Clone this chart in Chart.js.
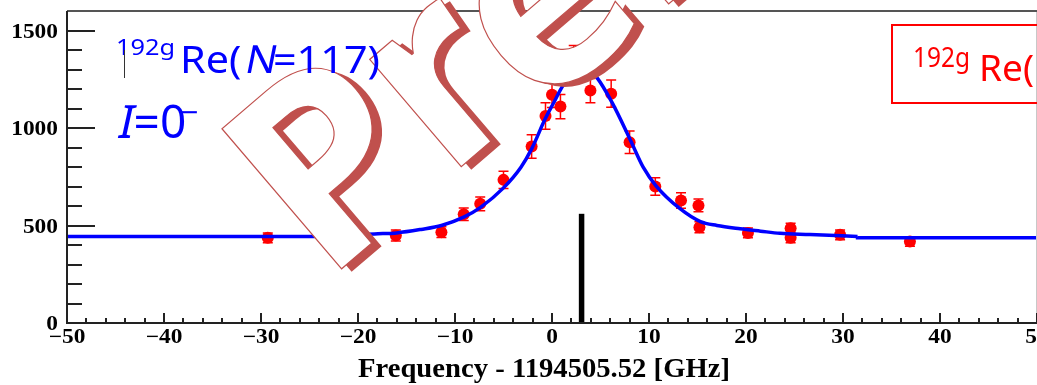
<!DOCTYPE html>
<html>
<head>
<meta charset="utf-8">
<script src="https://cdn.jsdelivr.net/npm/chart.js@4.4.0/dist/chart.umd.min.js"></script>
<style>
  html, body { margin: 0; padding: 0; background: #fff; }
  #wrap { width: 1037px; height: 385px; }
</style>
</head>
<body>
<div id="wrap"><canvas id="resonance" width="1037" height="385"></canvas></div>
<script>
// ---- measured points: frequency offset (GHz), counts, error ----
const freq     = [-29.3, -16.1, -11.4, -9.1, -7.4, -5.0, -2.1, -0.67, 0.0, 0.87, 2.24, 3.96, 6.1, 8.0, 10.65, 13.3, 15.1, 15.2, 20.2, 24.6, 24.6, 29.7, 36.9];
const counts   = [437, 449, 466, 558, 611, 734, 905, 1062, 1170, 1110, 1358, 1192, 1176, 927, 700, 628, 603, 491, 462, 486, 437, 452, 418];
const countErr = [25, 28, 28, 32, 35, 44, 60, 68, 65, 62, 65, 62, 70, 58, 45, 40, 33, 28, 25, 26, 25, 25, 24];

// ---- fitted curve ----
const fitFreq   = [-24.5, -20, -18.3, -16, -13.5, -11.4, -9.1, -7.4, -5.0, -3.2, -2.1, -0.7, 0.2, 1.0, 2.0, 3.0, 4.0, 4.6, 6.2, 8.1, 9.4, 10.7, 13.2, 15.3, 17.0, 19.4, 21.5, 23.5, 26.6, 31.5];
const fitCounts = [443, 452, 457, 462, 480, 500, 543, 592, 693, 799, 893, 1047, 1132, 1207, 1280, 1315, 1290, 1261, 1130, 936, 799, 705, 586, 520, 500, 483, 471, 460, 454, 444];
// flat tails of the fit (ROOT draws them as steps)
const tailLeftFreq    = [-50, -35.5, -24.5];
const tailLeftCounts  = [435, 443, 443];
const tailRightFreq   = [31.5, 42.5, 50];
const tailRightCounts = [444, 437, 437];

// ---- black marker line ----
const refFreq   = [3.05, 3.05];
const refCounts = [0, 560];

// ---- axes ----
const xMajorTicks = [-50, -40, -30, -20, -10, 0, 10, 20, 30, 40, 50];
const xTickLabels = ['\u221250', '\u221240', '\u221230', '\u221220', '\u221210', '0', '10', '20', '30', '40', '50'];
const yMajorTicks = [0, 500, 1000, 1500];
const yTickLabels = ['0', '500', '1000', '1500'];
const xMinorStep = 2;
const yMinorStep = 100;
const axisTitle = 'Frequency - 1194505.52 [GHz]';

const pts = (xs, ys) => xs.map((x, i) => ({ x: x, y: ys[i] }));

// text with horizontal stretch and optional slant (fake italic)
function drawText(ctx, txt, x, y, font, color, sx, align, base, slant) {
    ctx.save();
    ctx.font = font;
    ctx.fillStyle = color;
    ctx.textAlign = align || 'left';
    ctx.textBaseline = base || 'alphabetic';
    ctx.translate(x, y);
    ctx.transform(sx, 0, -(slant || 0), 1, 0, 0);
    ctx.fillText(txt, 0, 0);
    ctx.restore();
}

function textWidth(ctx, txt, font) {
    ctx.font = font;
    return ctx.measureText(txt).width;
}

// error bars under the markers
const errorBars = {
    id: 'errorBars',
    beforeDatasetsDraw(chart) {
        const { ctx, scales: { x, y } } = chart;
        ctx.save();
        ctx.strokeStyle = '#ff0000';
        ctx.lineWidth = 1.5;
        freq.forEach((f, i) => {
            const px = x.getPixelForValue(f);
            const top = y.getPixelForValue(counts[i] + countErr[i]);
            const bot = y.getPixelForValue(counts[i] - countErr[i]);
            ctx.beginPath();
            ctx.moveTo(px, top); ctx.lineTo(px, bot);
            ctx.moveTo(px - 5, top); ctx.lineTo(px + 5, top);
            ctx.moveTo(px - 5, bot); ctx.lineTo(px + 5, bot);
            ctx.stroke();
        });
        ctx.restore();
    }
};

// ROOT style frame, inward ticks and labels
const rootAxes = {
    id: 'rootAxes',
    afterDatasetsDraw(chart) {
        const { ctx, chartArea: a, scales: { x, y } } = chart;
        ctx.save();
        // frame
        ctx.strokeStyle = '#c8c8c8';
        ctx.lineWidth = 1;
        ctx.beginPath(); ctx.moveTo(a.right - 0.5, a.top); ctx.lineTo(a.right - 0.5, a.bottom); ctx.stroke();
        ctx.strokeStyle = '#555';
        ctx.lineWidth = 2;
        ctx.beginPath(); ctx.moveTo(a.left, a.top); ctx.lineTo(a.right, a.top); ctx.stroke();
        ctx.strokeStyle = '#222';
        ctx.beginPath();
        ctx.moveTo(a.left, a.top); ctx.lineTo(a.left, a.bottom); ctx.lineTo(a.right, a.bottom);
        ctx.stroke();

        // y ticks
        ctx.lineWidth = 2;
        for (let v = y.min; v < y.max; v += yMinorStep) {
            const py = Math.round(y.getPixelForValue(v));
            const len = yMajorTicks.includes(v) ? 28 : 15;
            ctx.beginPath(); ctx.moveTo(a.left, py); ctx.lineTo(a.left + len, py); ctx.stroke();
        }
        // x ticks
        for (let v = x.min; v <= x.max; v += xMinorStep) {
            const px = Math.round(x.getPixelForValue(v));
            const len = xMajorTicks.includes(v) ? 10 : 5;
            ctx.beginPath(); ctx.moveTo(px, a.bottom); ctx.lineTo(px, a.bottom - len); ctx.stroke();
        }

        const tickFont = 'bold 20px "Liberation Serif"';
        yMajorTicks.forEach((v, i) => {
            drawText(ctx, yTickLabels[i], a.left - 9, y.getPixelForValue(v) + 2, tickFont, '#000', 1.17, 'right', 'middle');
        });
        xMajorTicks.forEach((v, i) => {
            drawText(ctx, xTickLabels[i], x.getPixelForValue(v), a.bottom + 14.5, tickFont, '#000', 1.17, 'center', 'middle');
        });

        const titleFont = 'bold 27px "Liberation Serif"';
        const tsx = 372 / textWidth(ctx, axisTitle, titleFont);
        drawText(ctx, axisTitle, 358, 377, titleFont, '#000', tsx, 'left', 'alphabetic');
        ctx.restore();
    }
};

// "Preliminary" stamp and the labels on top
const overlay = {
    id: 'overlay',
    afterDraw(chart) {
        const ctx = chart.ctx;
        const stampFont = 'bold 258px "Noto Sans"';
        const ang = -40.5 * Math.PI / 180;
        // pieces of the stamp word: text, shift along baseline, shift below baseline
        const parts = [['P', 0, 0], ['r', 0, 0], ['eliminary', -6, 11]];
        const stamp = (ox, oy, fill, stroke) => {
            ctx.save();
            ctx.translate(ox, oy);
            ctx.rotate(ang);
            ctx.font = stampFont;
            let t = 0;
            parts.forEach(([s, extra, drop]) => {
                t += extra;
                ctx.fillStyle = fill;
                ctx.fillText(s, t, drop);
                if (stroke) {
                    ctx.strokeStyle = stroke;
                    ctx.lineWidth = 1.2;
                    ctx.strokeText(s, t, drop);
                }
                t += ctx.measureText(s).width;
            });
            ctx.restore();
        };
        stamp(335, 286, '#c0504d');
        stamp(325, 283, '#ffffff', '#c0504d');

        const blue = '#0000ff';
        const red = '#ff0000';

        // blue nuclide label
        const supFont = '22px "Noto Sans"';
        drawText(ctx, '192g', 116, 55, supFont, blue, 59 / textWidth(ctx, '192g', supFont));
        const mainFont = '39px "Noto Sans"';
        const w1 = textWidth(ctx, 'Re(', mainFont);
        const w2 = textWidth(ctx, 'N', mainFont);
        const w3 = textWidth(ctx, '=117)', mainFont);
        const sx = 200 / (w1 + w2 + w3);
        drawText(ctx, 'Re(', 180, 73, mainFont, blue, sx);
        drawText(ctx, 'N', 180 + w1 * sx + 2, 73, mainFont, blue, sx, 'left', 'alphabetic', 0.2);
        drawText(ctx, '=117)', 180 + (w1 + w2) * sx, 73, mainFont, blue, sx);

        // spin label
        const spinFont = '46px "Noto Sans"';
        const wi = textWidth(ctx, 'I', spinFont);
        drawText(ctx, 'I', 116, 138, spinFont, blue, 1, 'left', 'alphabetic', 0.22);
        drawText(ctx, '=0', 116 + wi + 2, 138, spinFont, blue, 1);
        drawText(ctx, '\u2212', 189, 114, '30px "Noto Sans"', blue, 1.1, 'center', 'middle');

        // stray cursor mark
        ctx.save();
        ctx.strokeStyle = '#333';
        ctx.lineWidth = 1;
        ctx.beginPath(); ctx.moveTo(124.5, 50); ctx.lineTo(124.5, 78); ctx.stroke();
        ctx.restore();

        // red box on the right (cut by the picture edge)
        ctx.save();
        ctx.strokeStyle = red;
        ctx.lineWidth = 2;
        ctx.strokeRect(892, 25, 200, 78);
        ctx.restore();
        const rsup = '27px "Noto Sans"';
        drawText(ctx, '192g', 913, 67, rsup, red, 57 / textWidth(ctx, '192g', rsup));
        const rmain = '37px "Noto Sans"';
        drawText(ctx, 'Re(', 979, 81, rmain, red, 1);
        drawText(ctx, 'N=117)', 979 + textWidth(ctx, 'Re(', rmain), 81, rmain, red, 1, 'left', 'alphabetic', 0.2);
    }
};

new Chart(document.getElementById('resonance'), {
    type: 'scatter',
    data: {
        datasets: [
            {
                label: 'fit',
                data: pts(fitFreq, fitCounts),
                showLine: true,
                borderColor: '#0000ff',
                borderWidth: 3.5,
                pointRadius: 0,
                cubicInterpolationMode: 'monotone',
                order: 0
            },
            {
                label: 'fit tail left',
                data: pts(tailLeftFreq, tailLeftCounts),
                showLine: true,
                stepped: 'after',
                borderColor: '#0000ff',
                borderWidth: 3.5,
                pointRadius: 0,
                order: 0
            },
            {
                label: 'fit tail right',
                data: pts(tailRightFreq, tailRightCounts),
                showLine: true,
                stepped: 'after',
                borderColor: '#0000ff',
                borderWidth: 3.5,
                pointRadius: 0,
                order: 0
            },
            {
                label: 'data',
                data: pts(freq, counts),
                pointRadius: 6,
                pointBackgroundColor: '#ff0000',
                pointBorderWidth: 0,
                order: 1
            },
            {
                label: 'centroid',
                data: pts(refFreq, refCounts),
                showLine: true,
                borderColor: '#000000',
                borderWidth: 5.5,
                borderCapStyle: 'butt',
                pointRadius: 0,
                order: 2
            }
        ]
    },
    options: {
        responsive: false,
        animation: false,
        devicePixelRatio: 1,
        layout: { autoPadding: false, padding: { top: 11, left: 0, right: 0, bottom: 0 } },
        plugins: { legend: { display: false }, tooltip: { enabled: false } },
        scales: {
            x: {
                type: 'linear',
                min: -50, max: 50,
                ticks: { display: false },
                grid: { display: false },
                border: { display: false },
                afterFit: (s) => { s.height = 62; }
            },
            y: {
                type: 'linear',
                min: 0, max: 1600,
                ticks: { display: false },
                grid: { display: false },
                border: { display: false },
                afterFit: (s) => { s.width = 67; }
            }
        }
    },
    plugins: [errorBars, rootAxes, overlay]
});
</script>
</body>
</html>
